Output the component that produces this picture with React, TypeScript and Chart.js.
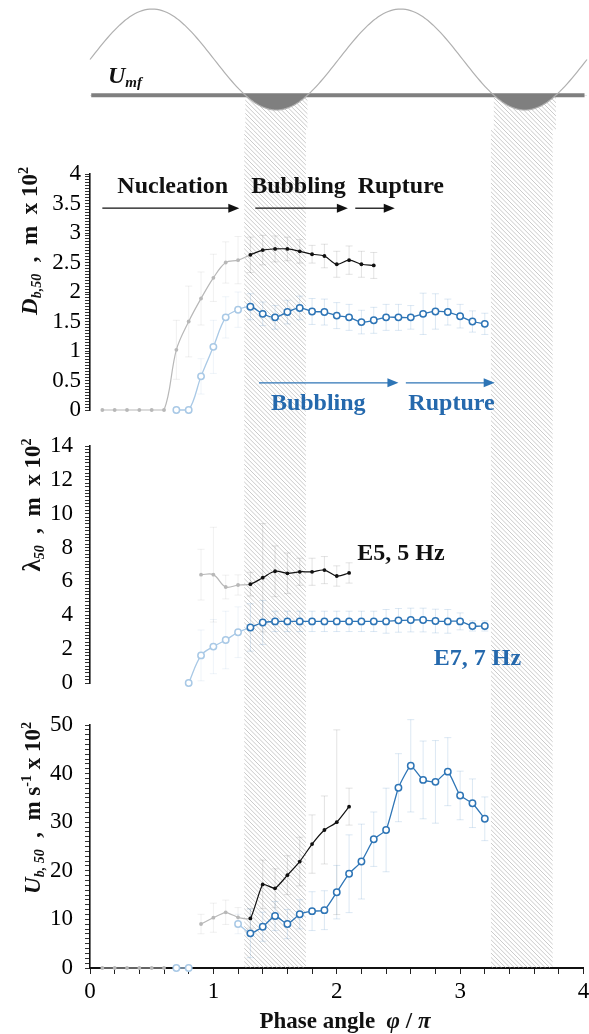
import React, { useEffect, useRef } from "react";
import { Chart, registerables } from "chart.js";

Chart.register(...registerables);

const SERIF = "'Liberation Serif', 'Times New Roman', Times, serif";
const INK = "#111111";
const INK_SOFT = "#b8b8b8";
const BLUE = "#2e75b6";
const BLUE_TEXT = "#2569ad";
const BLUE_SOFT = "#a9c9e6";
const HATCH = "rgba(165,165,165,0.85)";
const HATCH_GAP = 4.4;
const W = 589;

// Phase windows (φ/π) in which the oscillating gas velocity is below U_mf
const belowUmfStart = [1.25, 3.25];
const belowUmfEnd = [1.75, 3.75];
const umfLevel = -0.7071; // sin(1.25π)
// points taken before the first sub-U_mf window are drawn faded
const fadeBefore = 1.25;

// ---- Bubble diameter D_b,50 (m x 10^2)
const dbPhaseE5 = [0.1, 0.2, 0.3, 0.4, 0.5, 0.6, 0.7, 0.8, 0.9, 1.0, 1.1, 1.2, 1.3, 1.4, 1.5, 1.6, 1.7, 1.8, 1.9, 2.0, 2.1, 2.2, 2.3];
const dbE5 = [0, 0, 0, 0, 0, 0, 1.02, 1.5, 1.89, 2.24, 2.5, 2.54, 2.63, 2.71, 2.73, 2.73, 2.69, 2.64, 2.61, 2.47, 2.54, 2.47, 2.45];
const dbErrE5 = [0, 0, 0, 0, 0, 0, 0.5, 0.6, 0.45, 0.4, 0.35, 0.4, 0.3, 0.25, 0.22, 0.2, 0.2, 0.15, 0.2, 0.22, 0.24, 0.22, 0.22];
const dbPhaseE7 = [0.7, 0.8, 0.9, 1.0, 1.1, 1.2, 1.3, 1.4, 1.5, 1.6, 1.7, 1.8, 1.9, 2.0, 2.1, 2.2, 2.3, 2.4, 2.5, 2.6, 2.7, 2.8, 2.9, 3.0, 3.1, 3.2];
const dbE7 = [0, 0, 0.57, 1.07, 1.57, 1.7, 1.75, 1.63, 1.57, 1.66, 1.73, 1.67, 1.66, 1.6, 1.57, 1.49, 1.52, 1.57, 1.57, 1.57, 1.63, 1.67, 1.66, 1.59, 1.5, 1.46];
const dbErrE7 = [0, 0, 0.3, 0.45, 0.35, 0.3, 0.22, 0.2, 0.2, 0.2, 0.2, 0.22, 0.22, 0.22, 0.22, 0.2, 0.22, 0.22, 0.22, 0.2, 0.35, 0.3, 0.22, 0.2, 0.18, 0.18];

// ---- Bubble spacing λ50 (m x 10^2)
const lamPhaseE5 = [0.9, 1.0, 1.1, 1.2, 1.3, 1.4, 1.5, 1.6, 1.7, 1.8, 1.9, 2.0, 2.1];
const lamE5 = [6.4, 6.4, 5.67, 5.79, 5.84, 6.22, 6.6, 6.48, 6.57, 6.57, 6.67, 6.32, 6.5];
const lamErrE5 = [1.5, 2.8, 0.7, 0.6, 0.7, 3.2, 1.5, 1.2, 0.8, 0.8, 0.8, 0.6, 0.6];
const lamPhaseE7 = [0.8, 0.9, 1.0, 1.1, 1.2, 1.3, 1.4, 1.5, 1.6, 1.7, 1.8, 1.9, 2.0, 2.1, 2.2, 2.3, 2.4, 2.5, 2.6, 2.7, 2.8, 2.9, 3.0, 3.1, 3.2];
const lamE7 = [0, 1.63, 2.15, 2.54, 3.0, 3.28, 3.57, 3.64, 3.64, 3.64, 3.64, 3.64, 3.64, 3.64, 3.64, 3.64, 3.64, 3.7, 3.72, 3.72, 3.66, 3.64, 3.64, 3.37, 3.37];
const lamErrE7 = [0, 1.5, 1.6, 1.7, 1.5, 1.4, 1.3, 0.6, 0.6, 0.6, 0.6, 0.6, 0.6, 0.6, 0.6, 0.6, 0.7, 0.7, 0.7, 0.7, 0.7, 0.7, 0.5, 0.3, 0.3];

// ---- Bubble rise velocity U_b,50 (m s^-1 x 10^2)
const ubPhaseE5 = [0.1, 0.2, 0.3, 0.4, 0.5, 0.6, 0.7, 0.8, 0.9, 1.0, 1.1, 1.2, 1.3, 1.4, 1.5, 1.6, 1.7, 1.8, 1.9, 2.0, 2.1];
const ubE5 = [0, 0, 0, 0, 0, 0, null, null, 9.05, 10.35, 11.46, 10.43, 10.2, 17.2, 16.4, 19.1, 21.9, 25.5, 28.4, 30.0, 33.2];
const ubErrE5 = [0, 0, 0, 0, 0, 0, 0, 0, 2, 3, 2.5, 2, 2, 5, 4, 4, 5, 6, 7, 19, 3.8];
const ubPhaseE7 = [0.7, 0.8, 0.9, 1.0, 1.1, 1.2, 1.3, 1.4, 1.5, 1.6, 1.7, 1.8, 1.9, 2.0, 2.1, 2.2, 2.3, 2.4, 2.5, 2.6, 2.7, 2.8, 2.9, 3.0, 3.1, 3.2];
const ubE7 = [0, 0, null, null, null, 9.05, 7.13, 8.5, 10.7, 9.05, 11.05, 11.7, 11.9, 15.6, 19.4, 21.9, 26.5, 28.4, 37.1, 41.6, 38.7, 38.3, 40.4, 35.5, 33.9, 30.7];
const ubErrE7 = [0, 0, 0, 0, 0, 2, 5, 3, 3, 3, 3, 4, 4, 5.5, 8, 7.7, 5.6, 8.6, 7, 9.5, 8, 8.5, 7, 5, 5, 4.5];

// ---- Regime annotations
const e5Stages = ["Nucleation", "Bubbling", "Rupture"];
const e7Stages = ["Bubbling", "Rupture"];
const seriesNames = ["E5, 5 Hz", "E7, 7 Hz"];

const place = {
  e5StageAt: [0.67, 1.69, 2.52],
  e5StageLevel: 3.81,
  e5ArrowFrom: [0.1, 1.34, 2.15],
  e5ArrowTo: [1.21, 2.09, 2.47],
  e5ArrowLevel: 3.42,
  e7StageAt: [1.85, 2.93],
  e7StageLevel: 0.14,
  e7ArrowFrom: [1.37, 2.56],
  e7ArrowTo: [2.5, 3.28],
  e7ArrowLevel: 0.46,
  seriesAt: [[2.52, 7.74], [3.14, 1.54]],
};

type Pt = { x: number; y: number | null };
const pts = (xs: number[], ys: (number | null)[]): Pt[] => xs.map((x, i) => ({ x, y: ys[i] }));
const faded = (x: number) => x < fadeBefore;

type Run = { t: string; size: number; italic?: boolean; bold?: boolean; dy?: number };
const runFont = (r: Run) =>
  `${r.italic ? "italic " : ""}${r.bold === false ? "" : "bold "}${r.size}px ${SERIF}`;

// Draws a sequence of differently styled text runs centred on (cx, cy)
function drawRuns(ctx: CanvasRenderingContext2D, runs: Run[], cx: number, cy: number, rotated: boolean, color: string) {
  ctx.save();
  ctx.translate(cx, cy);
  if (rotated) ctx.rotate(-Math.PI / 2);
  ctx.fillStyle = color;
  ctx.textAlign = "left";
  ctx.textBaseline = "alphabetic";
  const widths = runs.map((r) => {
    ctx.font = runFont(r);
    return ctx.measureText(r.t).width;
  });
  const total = widths.reduce((a, b) => a + b, 0);
  const lift = runs[0].size * 0.33;
  let x = -total / 2;
  runs.forEach((r, i) => {
    ctx.font = runFont(r);
    ctx.fillText(r.t, x, lift + (r.dy || 0));
    x += widths[i];
  });
  ctx.restore();
}

function arrow(ctx: CanvasRenderingContext2D, x1: number, x2: number, y: number, color: string) {
  ctx.save();
  ctx.strokeStyle = color;
  ctx.fillStyle = color;
  ctx.lineWidth = 1.3;
  ctx.beginPath();
  ctx.moveTo(x1, y);
  ctx.lineTo(x2 - 8, y);
  ctx.stroke();
  ctx.beginPath();
  ctx.moveTo(x2, y);
  ctx.lineTo(x2 - 11, y - 4.5);
  ctx.lineTo(x2 - 11, y + 4.5);
  ctx.closePath();
  ctx.fill();
  ctx.restore();
}

// Diagonal hatching of the sub-U_mf windows; line phase follows page coordinates
// so the pattern runs on seamlessly from one canvas to the next.
function hatchPlugin(pageTop: number, fromY: number, toAxis: boolean) {
  return {
    id: "hatch",
    beforeDatasetsDraw(chart: any) {
      const { ctx } = chart;
      const x = chart.scales.x;
      const top = fromY;
      const bottom = toAxis ? chart.chartArea.bottom : chart.height;
      ctx.save();
      ctx.strokeStyle = HATCH;
      ctx.lineWidth = 0.7;
      belowUmfStart.forEach((s: number, i: number) => {
        const x0 = x.getPixelForValue(s);
        const x1 = x.getPixelForValue(belowUmfEnd[i]);
        ctx.save();
        ctx.beginPath();
        ctx.rect(x0, top, x1 - x0, bottom - top);
        ctx.clip();
        const gTop = top + pageTop;
        const gBot = bottom + pageTop;
        const kMin = Math.floor((x0 - gBot) / HATCH_GAP) - 1;
        const kMax = Math.ceil((x1 - gTop) / HATCH_GAP) + 1;
        ctx.beginPath();
        for (let k = kMin; k <= kMax; k++) {
          const c = k * HATCH_GAP;
          ctx.moveTo(c + gTop, top);
          ctx.lineTo(c + gBot, bottom);
        }
        ctx.stroke();
        ctx.restore();
      });
      ctx.restore();
    },
  };
}

const errorBarPlugin = {
  id: "errorBars",
  beforeDatasetsDraw(chart: any) {
    const { ctx } = chart;
    const xs = chart.scales.x;
    const ys = chart.scales.y;
    chart.data.datasets.forEach((ds: any) => {
      if (!ds.errors) return;
      ds.data.forEach((p: Pt, i: number) => {
        const e = ds.errors[i];
        if (!e || p.y === null) return;
        const px = xs.getPixelForValue(p.x);
        const t = ys.getPixelForValue(p.y + e);
        const b = ys.getPixelForValue(Math.max(p.y - e, 0));
        ctx.save();
        ctx.strokeStyle = faded(p.x) ? ds.errSoft : ds.errColor;
        ctx.lineWidth = 1;
        ctx.beginPath();
        ctx.moveTo(px, t);
        ctx.lineTo(px, b);
        ctx.moveTo(px - 3.5, t);
        ctx.lineTo(px + 3.5, t);
        ctx.moveTo(px - 3.5, b);
        ctx.lineTo(px + 3.5, b);
        ctx.stroke();
        ctx.restore();
      });
    });
  },
};

function overlayPlugin(draw: (chart: any) => void) {
  return { id: "overlay", afterDraw: (chart: any) => draw(chart) };
}

function e5Series(xs: number[], ys: (number | null)[], errs: number[], tension: number) {
  return {
    data: pts(xs, ys),
    errors: errs,
    errColor: "rgba(90,90,90,0.17)",
    errSoft: "rgba(90,90,90,0.09)",
    borderColor: INK,
    borderWidth: 1.2,
    tension,
    pointRadius: 1.9,
    pointBorderWidth: 0,
    pointBackgroundColor: (c: any) => (c.raw && faded(c.raw.x) ? INK_SOFT : INK),
    pointBorderColor: (c: any) => (c.raw && faded(c.raw.x) ? INK_SOFT : INK),
    segment: { borderColor: (c: any) => (faded(c.p0.parsed.x) ? INK_SOFT : INK) },
    clip: false,
  };
}

function e7Series(xs: number[], ys: (number | null)[], errs: number[], tension: number) {
  return {
    data: pts(xs, ys),
    errors: errs,
    errColor: "rgba(46,117,182,0.17)",
    errSoft: "rgba(46,117,182,0.08)",
    borderColor: BLUE,
    borderWidth: 1.3,
    tension,
    pointRadius: 3.2,
    pointBorderWidth: 1.5,
    pointBackgroundColor: "#ffffff",
    pointBorderColor: (c: any) => (c.raw && faded(c.raw.x) ? BLUE_SOFT : BLUE),
    segment: { borderColor: (c: any) => (faded(c.p0.parsed.x) ? BLUE_SOFT : BLUE) },
    clip: false,
  };
}

const isMultiple = (v: number, m: number) => Math.abs(v / m - Math.round(v / m)) < 1e-6;
const tickFont = { family: SERIF, size: 23 };

function panelConfig(p: {
  datasets: any[];
  yMax: number;
  minor: number;
  major: number;
  tickPad: number;
  padTop: number;
  padBottom: number;
  showX: boolean;
  pageTop: number;
  overlay: (chart: any) => void;
}) {
  const xScale = p.showX
    ? {
        type: "linear",
        min: 0,
        max: 4,
        position: "bottom",
        ticks: {
          stepSize: 0.2,
          autoSkip: false,
          maxRotation: 0,
          padding: 4,
          color: "#000",
          font: tickFont,
          callback: (v: number) => (isMultiple(v, 1) ? String(Math.round(v)) : ""),
        },
        grid: { drawOnChartArea: false, drawTicks: true, tickLength: 6, color: "#222", lineWidth: 1 },
        border: { display: true, color: "#111", width: 2 },
        afterFit: (s: any) => {
          s.height = 66;
          s.paddingLeft = 0;
          s.paddingRight = 0;
        },
      }
    : { type: "linear", min: 0, max: 4, display: false };
  return {
    type: "line",
    data: { datasets: p.datasets },
    options: {
      responsive: false,
      animation: false,
      devicePixelRatio: 1,
      events: [],
      layout: { padding: { left: 0, right: 2, top: p.padTop, bottom: p.padBottom } },
      plugins: { legend: { display: false }, tooltip: { enabled: false } },
      scales: {
        x: xScale,
        y: {
          type: "linear",
          min: 0,
          max: p.yMax,
          ticks: {
            stepSize: p.minor,
            autoSkip: false,
            padding: p.tickPad,
            color: "#000",
            font: tickFont,
            callback: (v: number) => (isMultiple(v, p.major) ? String(Number(v.toFixed(2))) : ""),
          },
          grid: { drawOnChartArea: false, drawTicks: true, tickLength: 5, color: "#333", lineWidth: 1 },
          border: { display: true, color: "#111", width: 1.6 },
          afterFit: (s: any) => {
            s.width = 90;
            s.paddingTop = 0;
            s.paddingBottom = 0;
          },
        },
      },
    },
    plugins: [hatchPlugin(p.pageTop, 0, p.showX), errorBarPlugin, overlayPlugin(p.overlay)],
  };
}

// Imposed sinusoidal gas velocity over two oscillation periods
const sinePhase: number[] = [];
for (let i = 0; i <= 201; i++) sinePhase.push(i * 0.02);
const sineLevel = sinePhase.map((f) => Math.sin(Math.PI * f));

function sineConfig() {
  return {
    type: "line",
    data: {
      datasets: [
        {
          data: pts(sinePhase, sineLevel),
          borderColor: "#b0b0b0",
          borderWidth: 1.2,
          pointRadius: 0,
          tension: 0,
          fill: { target: { value: umfLevel }, above: "rgba(0,0,0,0)", below: "#7f7f7f" },
          clip: false,
        },
        {
          data: [{ x: 0.01, y: umfLevel }, { x: 3.98, y: umfLevel }],
          borderColor: "#7f7f7f",
          borderWidth: 4,
          pointRadius: 0,
          fill: false,
          clip: false,
        },
      ],
    },
    options: {
      responsive: false,
      animation: false,
      devicePixelRatio: 1,
      events: [],
      layout: { padding: { left: 90, right: 2, top: 9, bottom: 20 } },
      plugins: { legend: { display: false }, tooltip: { enabled: false } },
      scales: {
        x: { type: "linear", min: 0, max: 4, display: false },
        y: { type: "linear", min: -1, max: 1, display: false },
      },
    },
    plugins: [
      hatchPlugin(0, 97, false),
      overlayPlugin((chart: any) => {
        drawRuns(chart.ctx, [{ t: "U", size: 24, italic: true }, { t: "mf", size: 15, italic: true, dy: 4 }], 125, 75, false, INK);
      }),
    ],
  };
}

export default function App() {
  const sineRef = useRef<HTMLCanvasElement>(null);
  const dbRef = useRef<HTMLCanvasElement>(null);
  const lamRef = useRef<HTMLCanvasElement>(null);
  const ubRef = useRef<HTMLCanvasElement>(null);

  useEffect(() => {
    document.body.style.margin = "0";
    const charts: Chart[] = [];

    charts.push(new Chart(sineRef.current as HTMLCanvasElement, sineConfig() as any));

    charts.push(
      new Chart(
        dbRef.current as HTMLCanvasElement,
        panelConfig({
          datasets: [e5Series(dbPhaseE5, dbE5, dbErrE5, 0.35), e7Series(dbPhaseE7, dbE7, dbErrE7, 0.35)],
          yMax: 4,
          minor: 0.05,
          major: 0.5,
          tickPad: 4,
          padTop: 44,
          padBottom: 18,
          showX: false,
          pageTop: 130,
          overlay: (chart: any) => {
            const { ctx } = chart;
            const x = chart.scales.x;
            const y = chart.scales.y;
            e5Stages.forEach((name, i) => {
              drawRuns(ctx, [{ t: name, size: 24 }], x.getPixelForValue(place.e5StageAt[i]), y.getPixelForValue(place.e5StageLevel), false, INK);
              arrow(ctx, x.getPixelForValue(place.e5ArrowFrom[i]), x.getPixelForValue(place.e5ArrowTo[i]), y.getPixelForValue(place.e5ArrowLevel), INK);
            });
            e7Stages.forEach((name, i) => {
              drawRuns(ctx, [{ t: name, size: 24 }], x.getPixelForValue(place.e7StageAt[i]), y.getPixelForValue(place.e7StageLevel), false, BLUE_TEXT);
              arrow(ctx, x.getPixelForValue(place.e7ArrowFrom[i]), x.getPixelForValue(place.e7ArrowTo[i]), y.getPixelForValue(place.e7ArrowLevel), BLUE);
            });
            drawRuns(
              ctx,
              [
                { t: "D", size: 23, italic: true },
                { t: "b,50", size: 14, italic: true, dy: 4 },
                { t: "  ,  m  x 10", size: 23 },
                { t: "2", size: 14, dy: -9 },
              ],
              29,
              111,
              true,
              INK
            );
          },
        }) as any
      )
    );

    charts.push(
      new Chart(
        lamRef.current as HTMLCanvasElement,
        panelConfig({
          datasets: [e5Series(lamPhaseE5, lamE5, lamErrE5, 0.35), e7Series(lamPhaseE7, lamE7, lamErrE7, 0.35)],
          yMax: 14,
          minor: 0.2,
          major: 2,
          tickPad: 12,
          padTop: 18,
          padBottom: 22,
          showX: false,
          pageTop: 428,
          overlay: (chart: any) => {
            const { ctx } = chart;
            const x = chart.scales.x;
            const y = chart.scales.y;
            drawRuns(ctx, [{ t: seriesNames[0], size: 24 }], x.getPixelForValue(place.seriesAt[0][0]), y.getPixelForValue(place.seriesAt[0][1]), false, INK);
            drawRuns(ctx, [{ t: seriesNames[1], size: 24 }], x.getPixelForValue(place.seriesAt[1][0]), y.getPixelForValue(place.seriesAt[1][1]), false, BLUE_TEXT);
            drawRuns(
              ctx,
              [
                { t: "λ", size: 25 },
                { t: "50", size: 14, italic: true, dy: 4 },
                { t: "  ,  m  x 10", size: 23 },
                { t: "2", size: 14, dy: -9 },
              ],
              32,
              77,
              true,
              INK
            );
          },
        }) as any
      )
    );

    charts.push(
      new Chart(
        ubRef.current as HTMLCanvasElement,
        panelConfig({
          datasets: [e5Series(ubPhaseE5, ubE5, ubErrE5, 0.15), e7Series(ubPhaseE7, ubE7, ubErrE7, 0.15)],
          yMax: 50,
          minor: 1,
          major: 10,
          tickPad: 12,
          padTop: 20,
          padBottom: 0,
          showX: true,
          pageTop: 705,
          overlay: (chart: any) => {
            const { ctx } = chart;
            drawRuns(
              ctx,
              [
                { t: "U", size: 23, italic: true },
                { t: "b, 50", size: 14, italic: true, dy: 4 },
                { t: "  ,  m s", size: 23 },
                { t: "-1", size: 14, dy: -9 },
                { t: " x 10", size: 23 },
                { t: "2", size: 14, dy: -9 },
              ],
              32,
              103,
              true,
              INK
            );
            drawRuns(
              ctx,
              [
                { t: "Phase angle  ", size: 23 },
                { t: "φ", size: 23, italic: true },
                { t: " / ", size: 23 },
                { t: "π", size: 23, italic: true },
              ],
              345,
              315,
              false,
              INK
            );
          },
        }) as any
      )
    );

    return () => charts.forEach((c) => c.destroy());
  }, []);

  const abs = (top: number): React.CSSProperties => ({ position: "absolute", left: 0, top });

  return (
    <div style={{ position: "relative", width: W, height: 1034, background: "#ffffff", overflow: "hidden" }}>
      <canvas ref={sineRef} width={W} height={130} style={abs(0)} />
      <canvas ref={dbRef} width={W} height={298} style={abs(130)} />
      <canvas ref={lamRef} width={W} height={277} style={abs(428)} />
      <canvas ref={ubRef} width={W} height={329} style={abs(705)} />
    </div>
  );
}
